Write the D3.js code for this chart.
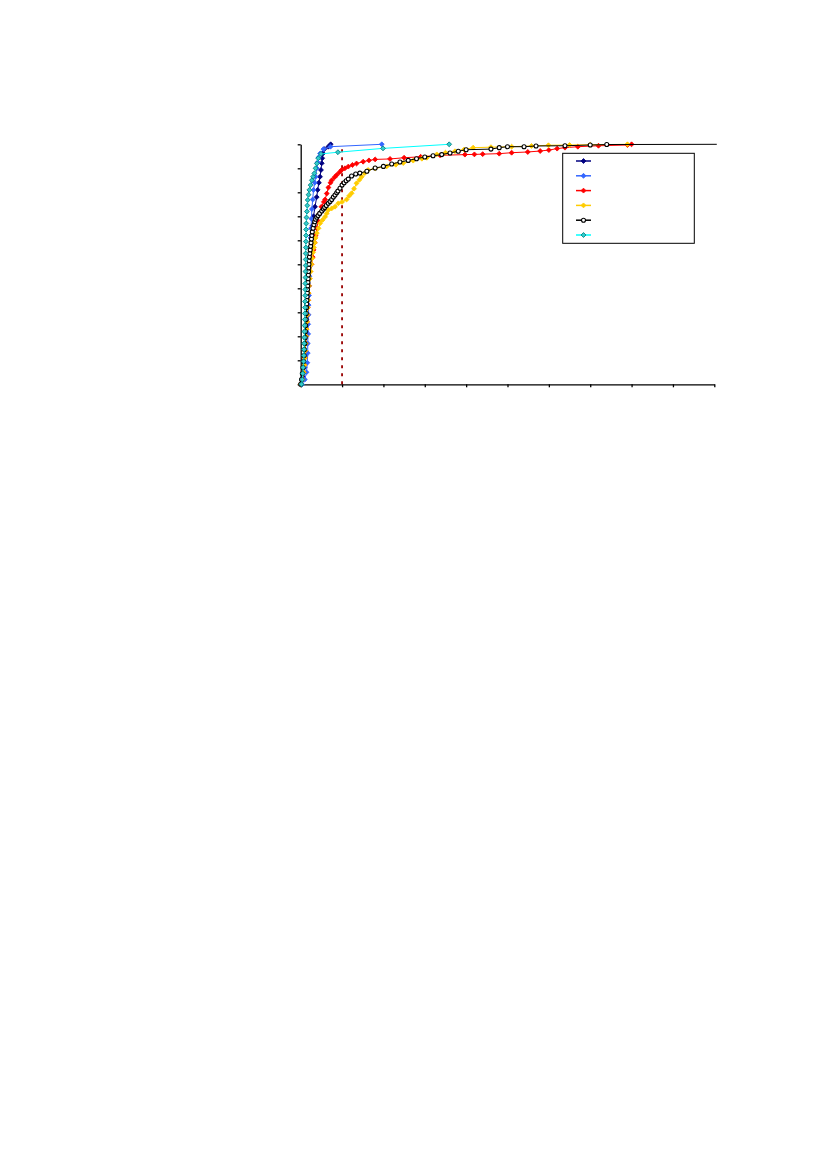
<!DOCTYPE html>
<meta charset="utf-8">
<head>
	<title>Cumulative distribution</title>
	<script type="text/javascript" src="https://cdn.jsdelivr.net/npm/d3@7"></script>
	<style>
		body { margin: 0; background: #fff; }
	</style>
</head>
<body>
<script>

	// data: [x, cumulative fraction]
	const navyPts = [[0.02,0],[0.06,0.03],[0.09,0.07],[0.11,0.12],[0.12,0.17],[0.13,0.22],[0.14,0.27],[0.15,0.32],
		[0.16,0.37],[0.17,0.42],[0.18,0.47],[0.2,0.52],[0.22,0.57],[0.25,0.62],[0.28,0.66],[0.31,0.70],[0.346,0.74],
		[0.387,0.78],[0.41,0.81],[0.44,0.84],[0.467,0.865],[0.49,0.893],[0.508,0.921],[0.52,0.942],[0.54,0.962],
		[0.57,0.98],[0.667,0.99],[0.725,1.0]];

	const bluePts = [[0.03,0],[0.1,0.02],[0.14,0.05],[0.16,0.09],[0.17,0.13],[0.17,0.17],[0.18,0.21],[0.18,0.25],
		[0.19,0.29],[0.19,0.33],[0.2,0.37],[0.2,0.41],[0.21,0.45],[0.22,0.49],[0.22,0.53],[0.23,0.57],[0.24,0.61],
		[0.25,0.65],[0.26,0.69],[0.27,0.73],[0.29,0.77],[0.31,0.81],[0.34,0.84],[0.36,0.865],[0.39,0.9],[0.41,0.925],
		[0.43,0.945],[0.47,0.962],[0.55,0.98],[0.72,0.99],[1.96,1.0]];

	const redPts = [[0,0],[0.04,0.02],[0.07,0.05],[0.09,0.08],[0.1,0.11],[0.11,0.14],[0.12,0.17],[0.13,0.2],
		[0.14,0.23],[0.15,0.26],[0.16,0.29],[0.17,0.32],[0.18,0.35],[0.19,0.38],[0.2,0.41],[0.21,0.44],[0.23,0.47],
		[0.26,0.5],[0.29,0.53],[0.31,0.56],[0.34,0.59],[0.36,0.62],[0.39,0.65],[0.42,0.68],[0.45,0.71],[0.5,0.74],
		[0.56,0.76],[0.59,0.77],[0.63,0.795],[0.67,0.82],[0.72,0.84],[0.75,0.85],[0.82,0.863],[0.87,0.872],
		[0.94,0.884],[0.99,0.893],[1.07,0.9],[1.15,0.907],[1.25,0.914],[1.35,0.92],[1.51,0.9275],[1.65,0.933],
		[1.8,0.937],[2.16,0.939],[2.5,0.944],[2.9,0.948],[3.37,0.954],[3.97,0.957],[4.2,0.958],[4.4,0.959],
		[4.8,0.961],[5.1,0.965],[5.49,0.968],[5.79,0.972],[6.0,0.976],[6.2,0.982],[6.39,0.986],[6.7,0.99],
		[7.2,0.994],[7.9,0.997],[8.0,1.0]];

	const goldPts = [[0,0],[0.04,0.02],[0.07,0.05],[0.09,0.08],[0.1,0.11],[0.11,0.14],[0.12,0.17],[0.13,0.2],
		[0.14,0.23],[0.15,0.26],[0.16,0.29],[0.17,0.32],[0.18,0.35],[0.19,0.38],[0.2,0.41],[0.22,0.44],[0.24,0.47],
		[0.26,0.5],[0.28,0.525],[0.3,0.55],[0.32,0.57],[0.34,0.59],[0.36,0.61],[0.39,0.63],[0.43,0.65],[0.47,0.671],
		[0.53,0.685],[0.59,0.698],[0.63,0.712],[0.667,0.726],[0.75,0.733],[0.83,0.74],[0.91,0.754],[1.0,0.76],
		[1.11,0.77],[1.17,0.785],[1.23,0.796],[1.29,0.815],[1.35,0.8375],[1.42,0.852],[1.475,0.865],[1.55,0.88],
		[1.63,0.893],[1.8,0.9],[2.08,0.908],[2.3,0.915],[2.48,0.922],[2.72,0.932],[2.93,0.94],[3.05,0.944],
		[3.29,0.958],[3.5,0.965],[3.73,0.971],[3.95,0.978],[4.17,0.986],[4.6,0.988],[5.1,0.99],[5.58,0.993],
		[5.99,0.996],[6.5,0.997],[7.0,0.998],[7.9,1.0]];

	const blackPts = [[0,0],[0.02,0.02],[0.04,0.045],[0.055,0.07],[0.07,0.095],[0.08,0.12],[0.09,0.145],[0.1,0.17],
		[0.11,0.195],[0.115,0.22],[0.12,0.245],[0.13,0.27],[0.135,0.295],[0.14,0.32],[0.145,0.335],[0.15,0.35],
		[0.155,0.365],[0.16,0.38],[0.165,0.395],[0.17,0.41],[0.175,0.425],[0.18,0.44],[0.185,0.455],[0.19,0.47],
		[0.195,0.485],[0.2,0.5],[0.205,0.515],[0.21,0.53],[0.22,0.545],[0.23,0.56],[0.24,0.575],[0.25,0.59],
		[0.26,0.605],[0.27,0.62],[0.28,0.635],[0.3,0.65],[0.32,0.665],[0.34,0.677],[0.36,0.688],[0.39,0.696],
		[0.42,0.703],[0.46,0.712],[0.51,0.722],[0.55,0.73],[0.58,0.737],[0.62,0.745],[0.667,0.754],[0.71,0.762],
		[0.75,0.77],[0.79,0.78],[0.83,0.789],[0.87,0.798],[0.9,0.805],[0.95,0.817],[1.0,0.83],[1.05,0.84],
		[1.1,0.848],[1.15,0.855],[1.23,0.868],[1.33,0.876],[1.43,0.88],[1.6,0.888],[1.8,0.901],[2.0,0.908],
		[2.2,0.918],[2.4,0.926],[2.6,0.933],[2.8,0.94],[3.0,0.947],[3.2,0.952],[3.41,0.957],[3.61,0.964],
		[3.81,0.971],[4.0,0.9775],[4.6,0.98],[4.8,0.986],[5.0,0.99],[5.4,0.99],[5.69,0.993],[6.39,0.994],
		[7.0,0.997],[7.4,0.999],[10.06,1.0]];

	const cyanPts = [[0.02,0],[0.04,0.02],[0.05,0.045],[0.06,0.07],[0.07,0.095],[0.075,0.12],[0.08,0.145],
		[0.085,0.17],[0.09,0.195],[0.09,0.22],[0.095,0.245],[0.1,0.27],[0.1,0.295],[0.105,0.32],[0.105,0.345],
		[0.11,0.37],[0.11,0.395],[0.11,0.42],[0.115,0.445],[0.115,0.47],[0.12,0.495],[0.12,0.52],[0.12,0.545],
		[0.125,0.57],[0.125,0.595],[0.13,0.62],[0.13,0.645],[0.135,0.67],[0.14,0.695],[0.15,0.72],[0.16,0.745],
		[0.17,0.768],[0.19,0.79],[0.21,0.81],[0.24,0.83],[0.27,0.85],[0.30,0.865],[0.33,0.879],[0.36,0.90],
		[0.39,0.92],[0.425,0.942],[0.49,0.96],[0.9,0.967],[1.99,0.983],[3.59,1.0]];

	const xTicks = [0,1,2,3,4,5,6,7,8,9,10];
	const yTicks = [0,0.1,0.2,0.3,0.4,0.5,0.6,0.7,0.8,0.9,1];
	const cutoffX = 1;
	const cutoffTop = 0.985;

	// styling for each series, in legend / drawing order
	const series = [
		{ pts: navyPts,  line: "#000080", fill: "#000080", stroke: "#000080", shape: "diamond" },
		{ pts: bluePts,  line: "#3366FF", fill: "#3366FF", stroke: "#3366FF", shape: "diamond" },
		{ pts: redPts,   line: "#FF0000", fill: "#FF0000", stroke: "#FF0000", shape: "diamond" },
		{ pts: goldPts,  line: "#FFCC00", fill: "#FFCC00", stroke: "#FFCC00", shape: "diamond" },
		{ pts: blackPts, line: "#000000", fill: "#FFFFFF", stroke: "#000000", shape: "circle" },
		{ pts: cyanPts,  line: "#00FFFF", fill: "#33CCCC", stroke: "#008080", shape: "diamond" }
	];

	const width = 827;
	const height = 1169;

	const svg = d3.select("body")
		.append("svg")
		.attr("width", width)
		.attr("height", height);

	const x = d3.scaleLinear().domain([0, 10]).range([300.7, 714.3]);
	const y = d3.scaleLinear().domain([0, 1]).range([384.3, 144.3]);

	// axes, no labels
	svg.append("g")
		.attr("transform", `translate(0,${y(0)})`)
		.call(d3.axisBottom(x).tickValues(xTicks).tickSize(3).tickSizeOuter(0).tickFormat(""))
		.call(g => g.selectAll("path, line").attr("stroke", "#000").attr("stroke-width", 1.3));

	svg.append("g")
		.attr("transform", `translate(${x(0)},0)`)
		.call(d3.axisLeft(y).tickValues(yTicks).tickSize(3).tickSizeOuter(0).tickFormat(""))
		.call(g => g.selectAll("path, line").attr("stroke", "#000").attr("stroke-width", 1.3));

	// dashed cut-off line
	svg.append("line")
		.attr("x1", x(cutoffX)).attr("x2", x(cutoffX))
		.attr("y1", y(0)).attr("y2", y(cutoffTop))
		.attr("stroke", "#990000")
		.attr("stroke-width", 1.8)
		.attr("stroke-dasharray", "3,5");

	const line = d3.line().x(d => x(d[0])).y(d => y(d[1]));
	const diamond = d3.symbol(d3.symbolSquare, 12);

	function drawMarkers(g, s, pts) {
		if (s.shape == "circle") {
			g.selectAll("circle")
				.data(pts)
				.enter().append("circle")
				.attr("cx", d => d[0]).attr("cy", d => d[1])
				.attr("r", 2)
				.attr("fill", s.fill)
				.attr("stroke", s.stroke)
				.attr("stroke-width", 1.1);
		} else {
			g.selectAll("path")
				.data(pts)
				.enter().append("path")
				.attr("d", diamond)
				.attr("transform", d => `translate(${d[0]},${d[1]}) rotate(45)`)
				.attr("fill", s.fill)
				.attr("stroke", s.stroke)
				.attr("stroke-width", 0.8);
		}
	}

	series.forEach(s => {
		const g = svg.append("g");
		g.append("path")
			.attr("d", line(s.pts))
			.attr("fill", "none")
			.attr("stroke", s.line)
			.attr("stroke-width", 1);
		// markers only inside the plot area
		const inside = s.pts.filter(d => d[0] <= 10).map(d => [x(d[0]), y(d[1])]);
		drawMarkers(g.append("g"), s, inside);
	});

	// legend (no labels in the picture)
	const legend = svg.append("g");
	legend.append("rect")
		.attr("x", 562.7).attr("y", 153.3)
		.attr("width", 131.6).attr("height", 90)
		.attr("fill", "#fff")
		.attr("stroke", "#000")
		.attr("stroke-width", 1);

	series.forEach((s, i) => {
		const ly = 161 + i * 14.8;
		const row = legend.append("g");
		row.append("line")
			.attr("x1", 576).attr("x2", 591)
			.attr("y1", ly).attr("y2", ly)
			.attr("stroke", s.line)
			.attr("stroke-width", 1.5);
		drawMarkers(row.append("g"), s, [[583.5, ly]]);
	});

</script>
</body>
</html>
